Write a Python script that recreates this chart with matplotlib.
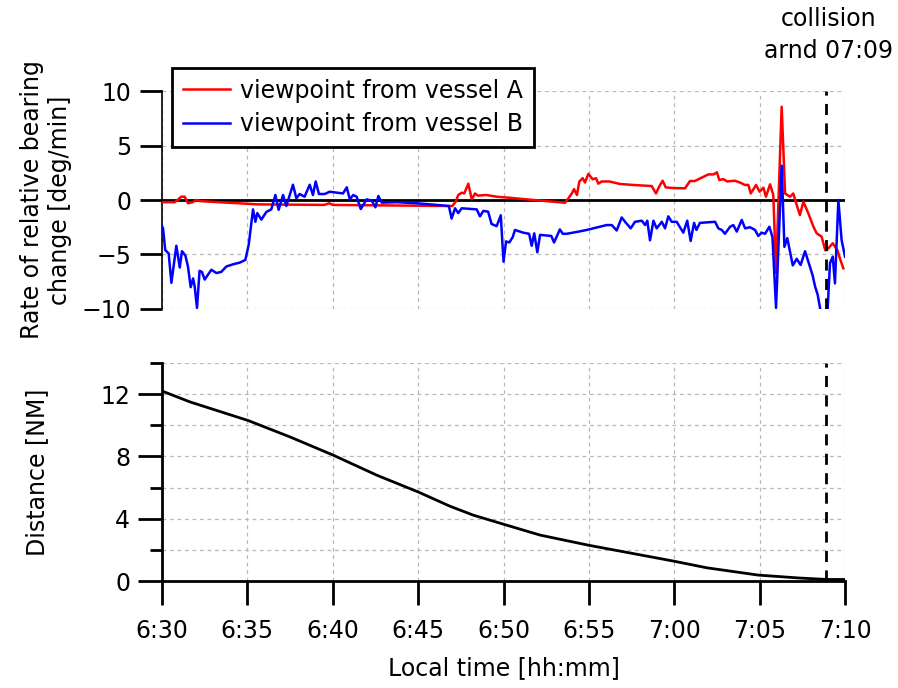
import matplotlib
matplotlib.use('Agg')
import matplotlib.pyplot as plt

# minutes after 6:30
t_a = [0.0, 0.75, 1.13, 1.33, 1.52, 1.8, 2.0, 2.2, 5.6, 9.5, 9.8, 10.0, 16.8, 17.0, 17.2,
       17.35, 17.55, 17.7, 17.94, 18.14, 18.33, 18.5, 19.0, 19.6, 20.4, 21.75, 23.6, 23.8,
       24.0, 24.13, 24.3, 24.44, 24.64, 24.77, 24.97, 25.22, 25.42, 25.55, 25.75, 26.2,
       26.82, 27.6, 28.68, 28.93, 29.13, 29.32, 29.5, 29.9, 30.63, 30.92, 31.2, 31.6, 32.0,
       32.3, 32.5, 32.64, 32.87, 33.1, 33.55, 33.85, 34.14, 34.34, 34.48, 34.79, 35.0,
       35.22, 35.37, 35.61, 35.8, 35.96, 36.29, 36.49, 36.78, 36.97, 37.17, 37.36, 37.56,
       37.85, 38.15, 38.34, 38.63, 38.84, 39.03, 39.28, 39.55, 39.7, 39.9]
rate_a = [-0.2, -0.2, 0.3, 0.3, -0.3, -0.2, 0.0, -0.1, -0.4, -0.45, -0.3, -0.45, -0.55, -0.55,
          -0.15, 0.46, 0.67, 0.6, 1.5, 0.06, 0.6, 0.4, 0.46, 0.3, 0.2, 0.0, -0.25, 0.15, 0.6,
          1.0, 0.46, 1.7, 2.0, 1.6, 2.4, 1.9, 2.0, 1.5, 1.7, 1.7, 1.47, 1.38, 1.28, 0.6, 1.28,
          1.77, 1.16, 1.1, 1.07, 1.74, 1.74, 2.05, 2.35, 2.35, 2.54, 1.83, 1.92, 1.7, 1.77,
          1.6, 1.38, 1.38, 0.6, 1.38, 0.76, 1.13, 0.3, 1.44, 0.46, -6.7, 8.56, 0.6, 0.3, 0.6,
          -0.46, -1.38, -0.15, -1.22, -2.45, -3.06, -3.36, -4.6, -4.43, -3.97, -4.6, -5.35,
          -6.27]

t_b = [0.0, 0.06, 0.19, 0.39, 0.55, 0.84, 1.04, 1.17, 1.37, 1.52, 1.68, 1.82, 1.91, 2.05,
       2.2, 2.34, 2.5, 2.89, 3.18, 3.47, 3.77, 4.16, 4.55, 4.88, 5.08, 5.33, 5.47, 5.58,
       5.82, 6.11, 6.4, 6.64, 6.83, 7.09, 7.28, 7.67, 7.87, 8.06, 8.35, 8.65, 8.84, 9.0,
       9.19, 9.53, 9.82, 10.6, 10.82, 11.0, 11.2, 11.4, 11.64, 11.99, 12.28, 12.5, 12.67,
       12.87, 13.74, 14.9, 15.7, 16.8, 16.96, 17.16, 17.35, 17.55, 18.43, 18.62, 18.82,
       19.1, 19.3, 19.6, 19.84, 20.0, 20.15, 20.34, 20.54, 20.67, 21.16, 21.5, 21.65, 21.8,
       21.98, 22.14, 22.8, 22.96, 23.3, 23.47, 23.7, 24.4, 24.87, 25.26, 26.04, 26.34,
       26.63, 26.92, 27.17, 27.45, 27.7, 28.1, 28.29, 28.42, 28.58, 28.78, 28.97, 29.27,
       29.46, 29.65, 29.85, 30.14, 30.53, 30.76, 30.96, 31.16, 31.3, 31.5, 32.39, 32.58,
       32.78, 32.97, 33.27, 33.46, 33.66, 33.95, 34.15, 34.44, 34.73, 34.92, 35.12, 35.32,
       35.57, 35.75, 35.96, 36.29, 36.45, 36.62, 36.94, 37.17, 37.4, 37.66, 37.85, 38.1,
       38.25, 38.4, 38.57, 38.75, 38.95, 39.12, 39.28, 39.41, 39.61, 39.8, 40.0]
rate_b = [-2.4, -2.6, -4.6, -4.9, -7.6, -4.2, -6.2, -4.7, -5.1, -6.1, -8.0, -7.2, -7.9, -9.9,
          -6.5, -6.6, -7.3, -6.4, -6.7, -6.6, -6.1, -5.9, -5.75, -5.5, -4.1, -0.86, -2.0,
          -1.2, -1.8, -1.1, -0.86, 0.46, -0.9, 0.46, -0.55, 1.4, 0.15, 0.55, 0.3, 1.4, 0.46,
          1.7, 0.55, 0.55, 0.76, 0.6, 1.16, 0.06, 0.46, 0.3, -0.83, 0.06, -0.06, -0.67, 0.37,
          -0.24, -0.2, -0.3, -0.4, -0.55, -1.7, -0.76, -1.2, -0.76, -0.86, -1.5, -1.0, -1.07,
          -2.2, -2.4, -1.4, -5.66, -3.8, -3.9, -3.4, -2.75, -3.0, -3.1, -4.2, -3.06, -4.8,
          -3.2, -3.3, -3.9, -2.7, -3.1, -3.1, -2.9, -2.75, -2.6, -2.3, -2.3, -2.8, -1.6, -2.1,
          -2.6, -2.0, -1.9, -2.3, -1.9, -3.7, -1.9, -2.6, -2.0, -2.6, -1.5, -2.0, -2.0, -3.0,
          -1.9, -3.76, -2.1, -2.75, -2.1, -2.0, -2.6, -2.75, -3.1, -2.45, -2.3, -2.9, -1.83,
          -2.6, -2.5, -2.75, -3.3, -3.0, -3.1, -2.45, -3.4, -9.9, 3.15, -4.3, -3.5, -6.0,
          -5.4, -5.96, -4.7, -5.66, -6.9, -7.95, -8.7, -10.2, -11.5, -11.0, -5.8, -5.2, -7.65,
          0.0, -3.67, -5.2]

t_dist = [0.0, 1.64, 5.06, 7.5, 10.03, 12.57, 15.0, 16.87, 18.23, 19.99, 22.14, 24.97,
          27.02, 29.95, 31.9, 34.92, 37.37, 38.93, 40.0]
dist = [12.2, 11.5, 10.3, 9.25, 8.08, 6.8, 5.72, 4.8, 4.23, 3.65, 2.95, 2.3, 1.88, 1.28,
        0.85, 0.38, 0.19, 0.1, 0.1]

x_ticks = [0, 5, 10, 15, 20, 25, 30, 35, 40]
x_labels = ['6:30', '6:35', '6:40', '6:45', '6:50', '6:55', '7:00', '7:05', '7:10']
collision_t = 38.9

plt.rcParams['font.family'] = ['DejaVu Sans']
plt.rcParams['font.size'] = 17

fig = plt.figure(figsize=(8.98, 6.88), dpi=100)
ax1 = fig.add_axes([0.1804, 0.5509, 0.7606, 0.3168])
ax2 = fig.add_axes([0.1804, 0.1555, 0.7606, 0.3169])

grid_kw = dict(color='#b8b8b8', linestyle=(0, (3, 3)), linewidth=0.9)

# top panel
ax1.plot(t_a, rate_a, color='red', lw=1.8, label='viewpoint from vessel A', zorder=3)
ax1.plot(t_b, rate_b, color='blue', lw=1.8, label='viewpoint from vessel B', zorder=3)
ax1.axhline(0, color='black', lw=2, zorder=2)
ax1.axvline(collision_t, color='black', lw=2, linestyle=(0, (4, 3)), zorder=4)
ax1.set_xlim(0, 40)
ax1.set_ylim(-10, 10)
ax1.set_yticks([-10, -5, 0, 5, 10])
ax1.set_xticks(x_ticks)
ax1.grid(True, **grid_kw)
for s in ['top', 'right', 'bottom']:
    ax1.spines[s].set_visible(False)
ax1.spines['left'].set_linewidth(1.2)
ax1.tick_params(axis='x', length=0, labelbottom=False)
ax1.tick_params(axis='y', direction='out', length=16, width=2, pad=6)
ax1.set_ylabel('Rate of relative bearing\nchange [deg/min]')
ax1.yaxis.set_label_coords(-0.132, 0.5)
leg = ax1.legend(loc='upper left', bbox_to_anchor=(0.0146, 1.106), borderaxespad=0,
                 fancybox=False, framealpha=1, edgecolor='black', handlelength=2.0,
                 handletextpad=0.45, borderpad=0.45, labelspacing=0.4)
leg.get_frame().set_linewidth(2)

# bottom panel
ax2.plot(t_dist, dist, color='black', lw=2, zorder=3)
ax2.axvline(collision_t, color='black', lw=2, linestyle=(0, (4, 3)), zorder=4)
ax2.set_xlim(0, 40)
ax2.set_ylim(0, 14)
ax2.set_yticks([0, 4, 8, 12])
ax2.set_yticks([2, 6, 10, 14], minor=True)
ax2.set_xticks(x_ticks)
ax2.set_xticklabels(x_labels)
ax2.grid(True, which='both', **grid_kw)
for s in ['top', 'right']:
    ax2.spines[s].set_visible(False)
ax2.spines['left'].set_linewidth(2)
ax2.spines['bottom'].set_linewidth(2)
ax2.tick_params(axis='y', which='major', direction='out', length=17, width=2, pad=6)
ax2.tick_params(axis='y', which='minor', direction='out', length=9, width=2)
ax2.tick_params(axis='x', direction='out', length=17, width=2, pad=10)
ax2.set_ylabel('Distance [NM]')
ax2.yaxis.set_label_coords(-0.165, 0.5)
ax2.set_xlabel('Local time [hh:mm]', labelpad=10)

fig.text(0.923, 0.99, 'collision\narnd 07:09', ha='center', va='top', linespacing=1.45)

fig.savefig('out.png', dpi=100)
